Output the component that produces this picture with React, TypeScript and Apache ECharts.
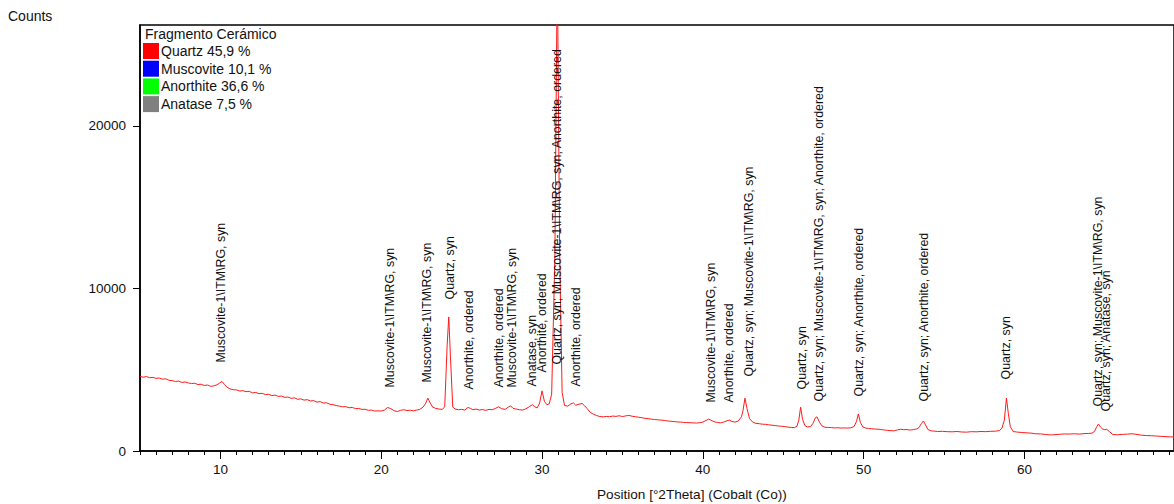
import React, { useEffect, useRef } from "react";
import * as echarts from "echarts";

// Measured pattern: [position (°2Theta), intensity (counts)]
const pattern: [number, number][] = [
  [5.0, 4600], [5.2, 4540], [5.4, 4580], [5.6, 4510], [5.8, 4530], [6.0, 4470], [6.2, 4490], [6.4, 4420], [6.6, 4440], [6.8, 4350],
  [7.0, 4330], [7.2, 4280], [7.4, 4300], [7.6, 4220], [7.8, 4250], [8.0, 4190], [8.2, 4150], [8.4, 4170], [8.6, 4090], [8.8, 4110],
  [9.0, 4030], [9.2, 4060], [9.4, 3980], [9.6, 4010], [9.8, 4080], [9.95, 4180], [10.1, 4280], [10.25, 4100], [10.4, 3930], [10.6, 3820],
  [10.8, 3770], [11.0, 3760], [11.2, 3690], [11.4, 3710], [11.6, 3650], [11.8, 3670], [12.0, 3580], [12.2, 3600], [12.4, 3530], [12.6, 3550],
  [12.8, 3470], [13.0, 3490], [13.2, 3410], [13.4, 3440], [13.6, 3360], [13.8, 3380], [14.0, 3300], [14.2, 3320], [14.4, 3240], [14.6, 3270],
  [14.8, 3180], [15.0, 3210], [15.2, 3130], [15.4, 3160], [15.6, 3080], [15.8, 3100], [16.0, 3010], [16.2, 3040], [16.4, 2950], [16.6, 2970],
  [16.8, 2880], [17.0, 2850], [17.2, 2800], [17.4, 2760], [17.6, 2720], [17.8, 2730], [18.0, 2660], [18.2, 2680], [18.4, 2610], [18.6, 2620],
  [18.8, 2560], [19.0, 2570], [19.2, 2500], [19.4, 2520], [19.6, 2460], [19.8, 2470], [20.0, 2460], [20.2, 2520], [20.4, 2680], [20.6, 2600],
  [20.8, 2480], [21.0, 2430], [21.2, 2500], [21.4, 2540], [21.6, 2490], [21.8, 2510], [22.0, 2470], [22.2, 2520], [22.4, 2560], [22.6, 2700],
  [22.75, 2900], [22.9, 3250], [23.05, 2950], [23.2, 2700], [23.4, 2620], [23.6, 2580], [23.8, 2560], [23.95, 2720], [24.1, 6500], [24.2, 8250],
  [24.3, 5900], [24.45, 2700], [24.6, 2580], [24.8, 2540], [25.0, 2560], [25.2, 2520], [25.4, 2680], [25.55, 2620], [25.7, 2540], [25.9, 2580],
  [26.1, 2520], [26.3, 2550], [26.5, 2500], [26.7, 2560], [26.9, 2540], [27.1, 2620], [27.3, 2720], [27.5, 2600], [27.7, 2560], [27.9, 2700],
  [28.05, 2780], [28.2, 2620], [28.4, 2580], [28.6, 2540], [28.8, 2520], [29.0, 2600], [29.2, 2720], [29.4, 2850], [29.55, 2720], [29.7, 2650],
  [29.85, 2950], [30.0, 3700], [30.15, 3050], [30.3, 2850], [30.45, 2900], [30.6, 3500], [30.8, 12000], [30.95, 30000], [31.1, 12000], [31.25, 3600],
  [31.4, 2800], [31.6, 2760], [31.8, 2900], [31.95, 2960], [32.1, 2820], [32.3, 2880], [32.5, 2920], [32.65, 2780], [32.8, 2620], [33.0, 2380],
  [33.2, 2260], [33.4, 2180], [33.6, 2120], [33.8, 2100], [34.0, 2130], [34.2, 2110], [34.4, 2150], [34.6, 2130], [34.8, 2170], [35.0, 2120],
  [35.2, 2160], [35.4, 2190], [35.6, 2140], [35.8, 2110], [36.0, 2080], [36.2, 2050], [36.4, 2010], [36.6, 1990], [36.8, 1960], [37.0, 1940],
  [37.2, 1920], [37.4, 1900], [37.6, 1880], [37.8, 1850], [38.0, 1830], [38.2, 1810], [38.4, 1790], [38.6, 1780], [38.8, 1760], [39.0, 1750],
  [39.2, 1740], [39.4, 1730], [39.6, 1720], [39.8, 1740], [40.0, 1780], [40.2, 1880], [40.35, 1960], [40.5, 1900], [40.7, 1800], [40.9, 1760],
  [41.1, 1730], [41.3, 1780], [41.5, 1860], [41.65, 1900], [41.8, 1820], [42.0, 1780], [42.2, 1840], [42.4, 2100], [42.5, 2500], [42.62, 3250],
  [42.75, 2600], [42.9, 2000], [43.1, 1780], [43.3, 1700], [43.5, 1680], [43.7, 1650], [43.9, 1640], [44.1, 1610], [44.3, 1590], [44.5, 1560],
  [44.7, 1540], [44.9, 1520], [45.1, 1500], [45.3, 1470], [45.5, 1450], [45.7, 1440], [45.85, 1520], [45.97, 1900], [46.08, 2700], [46.2, 1950],
  [46.35, 1560], [46.5, 1480], [46.7, 1500], [46.85, 1700], [47.0, 2050], [47.1, 2100], [47.25, 1780], [47.4, 1550], [47.6, 1460], [47.8, 1450],
  [48.0, 1440], [48.2, 1420], [48.4, 1430], [48.6, 1410], [48.8, 1420], [49.0, 1410], [49.2, 1430], [49.4, 1500], [49.55, 1800], [49.67, 2280],
  [49.8, 1750], [49.95, 1480], [50.1, 1420], [50.3, 1380], [50.5, 1370], [50.7, 1350], [50.9, 1340], [51.1, 1320], [51.3, 1290], [51.5, 1270],
  [51.7, 1250], [51.9, 1240], [52.1, 1300], [52.3, 1340], [52.5, 1310], [52.7, 1320], [52.9, 1290], [53.1, 1320], [53.3, 1360], [53.45, 1450],
  [53.6, 1700], [53.72, 1850], [53.85, 1600], [54.0, 1320], [54.2, 1240], [54.4, 1220], [54.6, 1200], [54.9, 1210], [55.2, 1190], [55.5, 1180],
  [55.8, 1200], [56.1, 1170], [56.4, 1160], [56.7, 1190], [57.0, 1180], [57.3, 1200], [57.6, 1190], [57.9, 1210], [58.2, 1220], [58.45, 1260],
  [58.6, 1400], [58.75, 1900], [58.88, 3260], [59.0, 2300], [59.12, 1500], [59.3, 1200], [59.5, 1170], [59.8, 1140], [60.1, 1120], [60.4, 1100],
  [60.7, 1060], [61.0, 1050], [61.3, 1020], [61.6, 990], [61.9, 1000], [62.2, 1030], [62.5, 1050], [62.8, 1040], [63.1, 1060], [63.4, 1040],
  [63.7, 1070], [64.0, 1080], [64.2, 1100], [64.35, 1200], [64.5, 1500], [64.6, 1660], [64.72, 1480], [64.85, 1360], [65.0, 1310], [65.12, 1330],
  [65.3, 1180], [65.5, 1010], [65.8, 1000], [66.1, 1020], [66.4, 1040], [66.7, 1060], [67.0, 1020], [67.3, 970], [67.6, 950], [67.9, 940],
  [68.2, 920], [68.5, 900], [68.8, 880], [69.1, 870], [69.3, 860],
];

// Phase legend
const legendTitle = "Fragmento Cerámico";
const phaseNames = ["Quartz 45,9 %", "Muscovite 10,1 %", "Anorthite 36,6 %", "Anatase 7,5 %"];
const phaseColors = ["#ff0000", "#0000ff", "#00ff00", "#808080"];

// Peak identification labels: position (°2Theta), base of label (counts), text
const peakPos = [
  10.09, 20.59, 22.89, 24.32, 25.5, 27.36, 28.17, 29.41, 30.03, 30.96, 32.14,
  40.53, 41.65, 42.89, 46.18, 47.24, 49.72, 53.76, 58.91, 64.63, 65.12,
];
const peakLabelBase = [
  5415, 3877, 4185, 9292, 3754, 3877, 3877, 3938, 4800, 5290, 3938,
  2954, 2954, 4554, 3754, 3015, 3323, 3015, 4369, 2708, 2400,
];
const peakLabels = [
  "Muscovite-1\\ITM\\RG, syn",
  "Muscovite-1\\ITM\\RG, syn",
  "Muscovite-1\\ITM\\RG, syn",
  "Quartz, syn",
  "Anorthite, ordered",
  "Anorthite, ordered",
  "Muscovite-1\\ITM\\RG, syn",
  "Anatase, syn",
  "Anorthite, ordered",
  "Quartz, syn; Muscovite-1\\ITM\\RG, syn; Anorthite, ordered",
  "Anorthite, ordered",
  "Muscovite-1\\ITM\\RG, syn",
  "Anorthite, ordered",
  "Quartz, syn; Muscovite-1\\ITM\\RG, syn",
  "Quartz, syn",
  "Quartz, syn; Muscovite-1\\ITM\\RG, syn; Anorthite, ordered",
  "Quartz, syn; Anorthite, ordered",
  "Quartz, syn; Anorthite, ordered",
  "Quartz, syn",
  "Quartz, syn; Muscovite-1\\ITM\\RG, syn",
  "Quartz, syn; Anatase, syn",
];

// Axis ticks
const xTickLabels = [10, 20, 30, 40, 50, 60];
const yTickLabels = [0, 10000, 20000];
const xMin = 5;
const xMax = 69.3;
const yMax = 26215;
const yAxisTitle = "Counts";
const xAxisTitle = "Position [°2Theta] (Cobalt (Co))";

const FONT = "'Liberation Sans', Arial, sans-serif";

export default function App() {
  const ref = useRef<HTMLDivElement>(null);

  useEffect(() => {
    if (!ref.current) return;
    const chart = echarts.init(ref.current, null, { renderer: "svg" });

    const labelData = peakPos.map((x, i) => ({ value: [x, peakLabelBase[i]], name: peakLabels[i] }));

    const option: any = {
      animation: false,
      backgroundColor: "#ffffff",
      textStyle: { fontFamily: FONT },
      grid: {
        left: 140,
        top: 25,
        right: -2,
        bottom: 53,
        show: true,
        borderColor: "#000",
        borderWidth: 1.5,
        backgroundColor: "transparent",
      },
      legend: {
        orient: "vertical",
        left: 138,
        top: 38,
        icon: "rect",
        itemWidth: 16,
        itemHeight: 16,
        itemGap: 1.7,
        data: phaseNames,
        textStyle: { fontFamily: FONT, fontSize: 14, color: "#111", padding: [0, 0, 0, -3] },
        itemStyle: { borderWidth: 0 },
        selectedMode: false,
      },
      graphic: [
        { type: "text", left: 8, top: 9, style: { text: yAxisTitle, font: `14px ${FONT}`, fill: "#111" } },
        { type: "text", left: 597, top: 487, style: { text: xAxisTitle, font: `13.6px ${FONT}`, fill: "#111" } },
        { type: "text", left: 145, top: 27, style: { text: legendTitle, font: `14px ${FONT}`, fill: "#111" } },
      ],
      xAxis: [
        {
          type: "value",
          min: xMin,
          max: xMax,
          interval: 1,
          axisLine: { show: true, onZero: false, lineStyle: { color: "#000", width: 1.5 } },
          axisTick: { show: true, length: 4, lineStyle: { color: "#000", width: 1 } },
          axisLabel: { show: false },
          splitLine: { show: false },
        },
        {
          type: "value",
          min: xMin,
          max: xMax,
          position: "bottom",
          axisLine: { show: false, onZero: false },
          axisTick: { show: true, length: 8, customValues: xTickLabels, lineStyle: { color: "#000", width: 1 } },
          axisLabel: {
            show: true,
            customValues: xTickLabels,
            margin: 11,
            fontSize: 13.5,
            fontFamily: FONT,
            color: "#111",
          },
          splitLine: { show: false },
        },
      ],
      yAxis: {
        type: "value",
        min: 0,
        max: yMax,
        axisLine: { show: true, onZero: false, lineStyle: { color: "#000", width: 1.5 } },
        axisTick: { show: true, length: 7, customValues: yTickLabels, lineStyle: { color: "#000", width: 1 } },
        axisLabel: {
          show: true,
          customValues: yTickLabels,
          formatter: (v: number) => String(v),
          margin: 14,
          fontSize: 13.5,
          fontFamily: FONT,
          color: "#111",
        },
        splitLine: { show: false },
      },
      series: [
        {
          name: "pattern",
          type: "line",
          xAxisIndex: 0,
          data: pattern,
          showSymbol: false,
          symbol: "none",
          clip: true,
          lineStyle: { color: "#ff1a1a", width: 1 },
          itemStyle: { color: "#ff1a1a" },
          z: 3,
        },
        ...phaseNames.map((n, i) => ({
          name: n,
          type: "line",
          xAxisIndex: 0,
          data: [],
          itemStyle: { color: phaseColors[i] },
          lineStyle: { color: phaseColors[i] },
        })),
        {
          name: "labels",
          type: "scatter",
          xAxisIndex: 0,
          data: labelData,
          symbolSize: 1,
          itemStyle: { color: "rgba(0,0,0,0)" },
          silent: true,
          z: 5,
          label: {
            show: true,
            position: [0, 0],
            rotate: 90,
            align: "left",
            verticalAlign: "middle",
            formatter: (p: any) => p.name,
            fontFamily: FONT,
            fontSize: 12.4,
            color: "#111",
            opacity: 1,
          },
        },
      ],
    };

    chart.setOption(option);
    return () => chart.dispose();
  }, []);

  return (
    <div
      ref={ref}
      style={{ position: "fixed", left: 0, top: 0, width: 1174, height: 504, background: "#fff" }}
    />
  );
}
